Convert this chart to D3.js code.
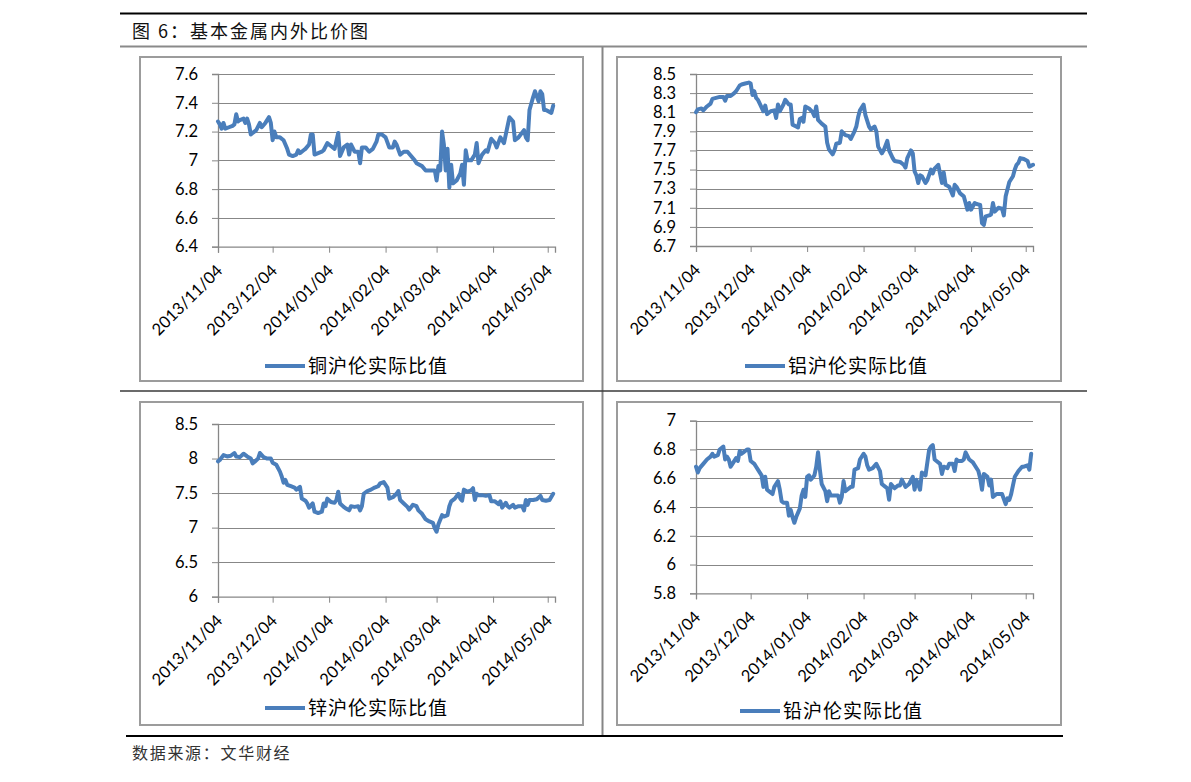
<!DOCTYPE html>
<html><head><meta charset="utf-8">
<script src="https://cdn.jsdelivr.net/npm/d3@7/dist/d3.min.js"></script>
<style>
html,body{margin:0;padding:0;background:#fff;}
svg{display:block;}
</style></head>
<body>
<svg id="chart" width="1191" height="782"></svg>
<script>
// ---------- data ----------
const startDate = "2013-11-04";          // day 0 of every series
const endDay = 185;                       // last calendar day on the axis (2014-05-08)
const tickDays = [0, 30, 61, 92, 120, 151, 181];
const tickLabels = ["2013/11/04","2013/12/04","2014/01/04","2014/02/04","2014/03/04","2014/04/04","2014/05/04"];

const title = "图 6：基本金属内外比价图";
const source = "数据来源：文华财经";

// 铜
const cuName = "铜沪伦实际比值";
const cuTicks = [6.4, 6.6, 6.8, 7.0, 7.2, 7.4, 7.6];
const cuTickLabels = ["6.4","6.6","6.8","7","7.2","7.4","7.6"];
const cuDay = [0,1,2,3,4,6,8,9,10,11,12,14,15,16,17,18,19,21,23,24,26,28,29,30,31,32,34,36,38,39,41,43,44,45,47,48,50,51,52,53,55,57,58,60,62,64,66,67,68,69,71,72,73,75,77,78,79,81,83,85,87,88,90,92,94,96,97,98,100,102,104,106,108,109,112,114,117,119,120,121,122,123,124,125,126,127,128,129,131,133,134,135,136,137,139,141,142,143,145,147,148,150,152,153,155,157,158,160,162,163,165,168,169,170,171,173,174,176,177,178,179,180,183,184];
const cuVal = [7.27,7.25,7.22,7.26,7.22,7.23,7.24,7.25,7.32,7.27,7.28,7.29,7.26,7.29,7.25,7.18,7.19,7.21,7.26,7.23,7.26,7.30,7.26,7.14,7.20,7.16,7.16,7.14,7.08,7.04,7.03,7.04,7.07,7.05,7.07,7.08,7.11,7.18,7.18,7.04,7.05,7.06,7.07,7.12,7.10,7.08,7.19,7.03,7.06,7.09,7.11,7.04,7.11,7.06,7.06,6.98,7.09,7.09,7.06,7.08,7.13,7.18,7.18,7.16,7.09,7.09,7.13,7.11,7.04,7.06,7.06,7.03,7.00,6.98,6.96,6.93,6.93,6.93,6.86,6.96,6.93,7.20,7.11,6.93,7.08,6.81,6.97,6.84,6.86,6.91,6.97,6.83,7.07,7.00,7.00,7.04,7.12,6.98,7.04,7.07,7.06,7.15,7.12,7.09,7.16,7.12,7.18,7.30,7.27,7.14,7.16,7.21,7.16,7.14,7.35,7.44,7.48,7.41,7.48,7.46,7.35,7.35,7.33,7.38];

// 铝
const alName = "铝沪伦实际比值";
const alTicks = [6.7, 6.9, 7.1, 7.3, 7.5, 7.7, 7.9, 8.1, 8.3, 8.5];
const alTickLabels = ["6.7","6.9","7.1","7.3","7.5","7.7","7.9","8.1","8.3","8.5"];
const alDay = [0,1,3,4,6,8,9,11,13,15,16,17,19,21,22,24,25,27,29,30,31,32,33,34,35,37,38,39,41,43,44,45,46,48,49,51,52,53,55,56,57,58,59,60,62,64,65,66,67,69,71,72,73,75,76,77,79,80,82,84,85,87,88,89,90,92,93,95,96,98,99,100,102,103,105,106,108,109,112,114,115,116,118,119,120,121,122,123,124,126,127,129,130,131,133,135,136,137,139,141,142,143,145,147,149,150,151,153,154,156,157,158,159,161,162,163,164,166,168,169,170,172,174,175,176,177,178,180,182,183,185];
const alVal = [8.10,8.13,8.14,8.12,8.16,8.19,8.24,8.25,8.26,8.26,8.22,8.27,8.27,8.30,8.32,8.38,8.39,8.40,8.41,8.40,8.28,8.32,8.25,8.23,8.19,8.11,8.17,8.08,8.11,8.12,8.04,8.18,8.11,8.18,8.23,8.18,8.18,7.97,7.95,7.94,8.03,8.04,8.00,8.16,8.14,8.10,8.06,8.16,8.02,7.98,7.95,7.78,7.71,7.66,7.70,7.77,7.78,7.90,7.86,7.85,7.82,7.90,7.95,8.05,8.12,8.18,8.07,7.95,7.92,7.95,7.90,7.74,7.67,7.70,7.80,7.70,7.62,7.59,7.58,7.55,7.52,7.62,7.70,7.67,7.48,7.44,7.36,7.44,7.43,7.36,7.39,7.50,7.46,7.51,7.55,7.36,7.47,7.34,7.32,7.23,7.34,7.32,7.25,7.22,7.08,7.15,7.08,7.15,7.14,7.13,6.94,6.92,7.01,7.02,7.03,7.15,7.06,7.10,7.09,7.02,7.22,7.37,7.43,7.50,7.55,7.57,7.62,7.61,7.59,7.53,7.55];

// 锌
const znName = "锌沪伦实际比值";
const znTicks = [6, 6.5, 7, 7.5, 8, 8.5];
const znTickLabels = ["6","6.5","7","7.5","8","8.5"];
const znDay = [0,1,3,5,7,9,10,12,14,16,18,19,20,22,23,25,27,29,30,32,34,35,36,37,38,40,42,43,45,46,48,49,50,52,53,55,57,58,59,60,62,64,65,66,67,69,70,72,73,75,77,78,79,80,82,84,86,88,89,91,93,94,96,98,99,100,102,104,105,107,109,110,112,114,116,118,119,120,121,123,124,126,127,128,130,132,133,134,135,137,139,140,141,142,143,145,147,149,150,152,154,155,156,158,159,160,162,163,165,167,168,169,170,171,173,175,177,178,180,182,184];
const znVal = [7.96,7.98,8.05,8.03,8.04,8.08,8.03,8.02,8.07,8.03,8.00,7.93,7.95,8.00,8.08,8.02,8.00,8.00,7.94,7.91,7.81,7.74,7.65,7.69,7.62,7.60,7.58,7.55,7.59,7.42,7.39,7.35,7.29,7.35,7.23,7.21,7.23,7.35,7.31,7.42,7.37,7.36,7.40,7.52,7.35,7.30,7.28,7.25,7.31,7.30,7.31,7.25,7.31,7.49,7.53,7.55,7.58,7.60,7.64,7.66,7.58,7.42,7.44,7.49,7.53,7.40,7.35,7.30,7.26,7.33,7.31,7.25,7.20,7.12,7.09,7.07,6.99,6.94,7.05,7.18,7.16,7.18,7.31,7.38,7.42,7.49,7.42,7.39,7.55,7.52,7.54,7.57,7.40,7.49,7.47,7.47,7.46,7.47,7.38,7.38,7.34,7.38,7.29,7.36,7.31,7.29,7.33,7.29,7.31,7.31,7.25,7.40,7.33,7.40,7.40,7.41,7.46,7.40,7.39,7.40,7.49];

// 铅
const pbName = "铅沪伦实际比值";
const pbTicks = [5.8, 6.0, 6.2, 6.4, 6.6, 6.8, 7.0];
const pbTickLabels = ["5.8","6","6.2","6.4","6.6","6.8","7"];
const pbDay = [0,1,2,4,6,8,9,10,12,13,15,16,17,18,19,20,22,23,24,25,26,28,29,30,32,33,34,36,37,38,39,40,42,43,45,46,47,48,50,51,52,53,54,55,57,58,59,60,61,62,63,65,66,67,68,69,71,72,73,74,76,78,79,80,81,82,83,85,86,87,89,90,92,93,94,95,97,99,101,102,104,105,106,107,109,111,112,113,115,117,119,120,121,123,124,125,126,128,129,130,131,132,134,135,136,138,139,141,142,143,144,146,147,148,150,152,153,155,156,157,158,160,161,162,163,165,167,168,170,171,172,173,174,175,177,179,180,182,183,184];
const pbVal = [6.68,6.64,6.67,6.70,6.73,6.75,6.77,6.75,6.76,6.80,6.82,6.73,6.75,6.73,6.68,6.70,6.74,6.72,6.79,6.77,6.78,6.80,6.80,6.72,6.70,6.68,6.66,6.62,6.54,6.61,6.52,6.51,6.49,6.54,6.58,6.52,6.44,6.43,6.43,6.34,6.38,6.33,6.29,6.33,6.39,6.48,6.52,6.47,6.61,6.62,6.59,6.62,6.68,6.78,6.66,6.56,6.51,6.44,6.51,6.48,6.48,6.48,6.43,6.47,6.58,6.51,6.52,6.54,6.54,6.66,6.67,6.73,6.77,6.75,6.69,6.66,6.67,6.70,6.65,6.56,6.54,6.53,6.45,6.56,6.53,6.55,6.55,6.59,6.54,6.56,6.61,6.52,6.59,6.52,6.64,6.63,6.62,6.80,6.82,6.83,6.73,6.72,6.70,6.63,6.68,6.67,6.70,6.70,6.65,6.73,6.72,6.72,6.73,6.78,6.73,6.71,6.69,6.65,6.60,6.52,6.63,6.61,6.55,6.59,6.47,6.49,6.49,6.49,6.42,6.46,6.45,6.49,6.55,6.61,6.65,6.68,6.68,6.69,6.66,6.77];

// ---------- layout ----------
const LINE_COLOR = "#4A7EBB";
const GRID = "#878787";
const LATIN = "Lato, 'Open Sans', sans-serif";
const CJK = "'Noto Sans CJK SC', sans-serif";

const panels = [
  {name: cuName, day: cuDay, val: cuVal, ticks: cuTicks, labels: cuTickLabels,
   frame: {x:140, y:57, w:443, h:324}, plot: {x:218, y:74, w:337, h:172.7}, legend: {x:265, y:366}},
  {name: alName, day: alDay, val: alVal, ticks: alTicks, labels: alTickLabels,
   frame: {x:617, y:57, w:444, h:324}, plot: {x:696, y:74, w:337, h:172}, legend: {x:745, y:366}},
  {name: znName, day: znDay, val: znVal, ticks: znTicks, labels: znTickLabels,
   frame: {x:140, y:402, w:443, h:323}, plot: {x:218, y:424, w:337, h:172.7}, legend: {x:265, y:708}},
  {name: pbName, day: pbDay, val: pbVal, ticks: pbTicks, labels: pbTickLabels,
   frame: {x:617, y:402, w:444, h:323}, plot: {x:696, y:420.7, w:337, h:172.6}, legend: {x:740, y:711}}
];

const svg = d3.select("#chart");
const parse = d3.timeParse("%Y-%m-%d");
const t0 = parse(startDate);
const toDate = d => d3.timeDay.offset(t0, d);

// header / footer rules
svg.append("line").attr("x1",120).attr("x2",1087).attr("y1",13.5).attr("y2",13.5)
  .attr("stroke","#000").attr("stroke-width",2);
svg.append("line").attr("x1",120).attr("x2",1087).attr("y1",46.5).attr("y2",46.5)
  .attr("stroke","#8a8a8a").attr("stroke-width",2);
svg.append("text").attr("x",132).attr("y",37.5).text(title)
  .attr("font-family",CJK).attr("font-size",18).attr("letter-spacing",2).attr("fill","#111");

// quadrant dividers
svg.append("line").attr("x1",602.5).attr("x2",602.5).attr("y1",47).attr("y2",735)
  .attr("stroke","#858585").attr("stroke-width",2);
svg.append("line").attr("x1",120).attr("x2",1087).attr("y1",391).attr("y2",391)
  .attr("stroke","#3a3a3a").attr("stroke-width",1.3);

svg.append("line").attr("x1",126).attr("x2",1063).attr("y1",736).attr("y2",736)
  .attr("stroke","#000").attr("stroke-width",2);
svg.append("text").attr("x",132).attr("y",759).text(source)
  .attr("font-family",CJK).attr("font-size",16).attr("letter-spacing",1.7).attr("fill","#333");

panels.forEach(p => {
  const g = svg.append("g");
  g.append("rect").attr("x",p.frame.x).attr("y",p.frame.y)
    .attr("width",p.frame.w).attr("height",p.frame.h)
    .attr("fill","#fff").attr("stroke","#9c9c9c").attr("stroke-width",2);

  const x = d3.scaleTime().domain([t0, toDate(endDay)]).range([p.plot.x, p.plot.x + p.plot.w]);
  const y = d3.scaleLinear().domain([p.ticks[0], p.ticks[p.ticks.length-1]])
    .range([p.plot.y + p.plot.h, p.plot.y]);

  // gridlines
  g.append("g").selectAll("line").data(p.ticks.slice(1)).join("line")
    .attr("x1",p.plot.x).attr("x2",p.plot.x + p.plot.w)
    .attr("y1",d => Math.round(y(d))+0.5).attr("y2",d => Math.round(y(d))+0.5)
    .attr("stroke",GRID).attr("stroke-width",1);

  // y axis
  const yAxis = d3.axisLeft(y).tickValues(p.ticks).tickSize(6).tickPadding(14)
    .tickFormat((d,i) => p.labels[i]);
  const ya = g.append("g").attr("transform",`translate(${p.plot.x},0)`).call(yAxis);
  ya.select(".domain").attr("stroke",GRID).attr("stroke-width",1.3);
  ya.selectAll(".tick line").attr("stroke",GRID);
  ya.selectAll(".tick text").attr("font-family",LATIN).attr("font-size",16.5).attr("fill","#000");

  // x axis
  const xAxis = d3.axisBottom(x).tickValues(tickDays.map(toDate)).tickSize(6)
    .tickFormat((d,i) => tickLabels[i]);
  const xa = g.append("g").attr("transform",`translate(0,${p.plot.y + p.plot.h})`).call(xAxis);
  xa.select(".domain").attr("stroke",GRID).attr("stroke-width",1.3);
  xa.selectAll(".tick line").attr("stroke",GRID);
  xa.selectAll(".tick text")
    .attr("font-family",LATIN).attr("font-size",16.5).attr("fill","#000")
    .attr("text-anchor","end").attr("dy",null).attr("y",null)
    .attr("transform","translate(5,25) rotate(-45)");

  // series line
  const pts = d3.zip(p.day, p.val);
  const line = d3.line().x(d => x(toDate(d[0]))).y(d => y(d[1]));
  g.append("path").datum(pts).attr("d",line)
    .attr("fill","none").attr("stroke",LINE_COLOR).attr("stroke-width",4)
    .attr("stroke-linejoin","round").attr("stroke-linecap","round");

  // legend
  g.append("line").attr("x1",p.legend.x).attr("x2",p.legend.x+40)
    .attr("y1",p.legend.y).attr("y2",p.legend.y)
    .attr("stroke",LINE_COLOR).attr("stroke-width",4);
  g.append("text").attr("x",p.legend.x+43).attr("y",p.legend.y+7).text(p.name)
    .attr("font-family",CJK).attr("font-size",19).attr("letter-spacing",1).attr("fill","#000");
});
</script>
</body></html>
